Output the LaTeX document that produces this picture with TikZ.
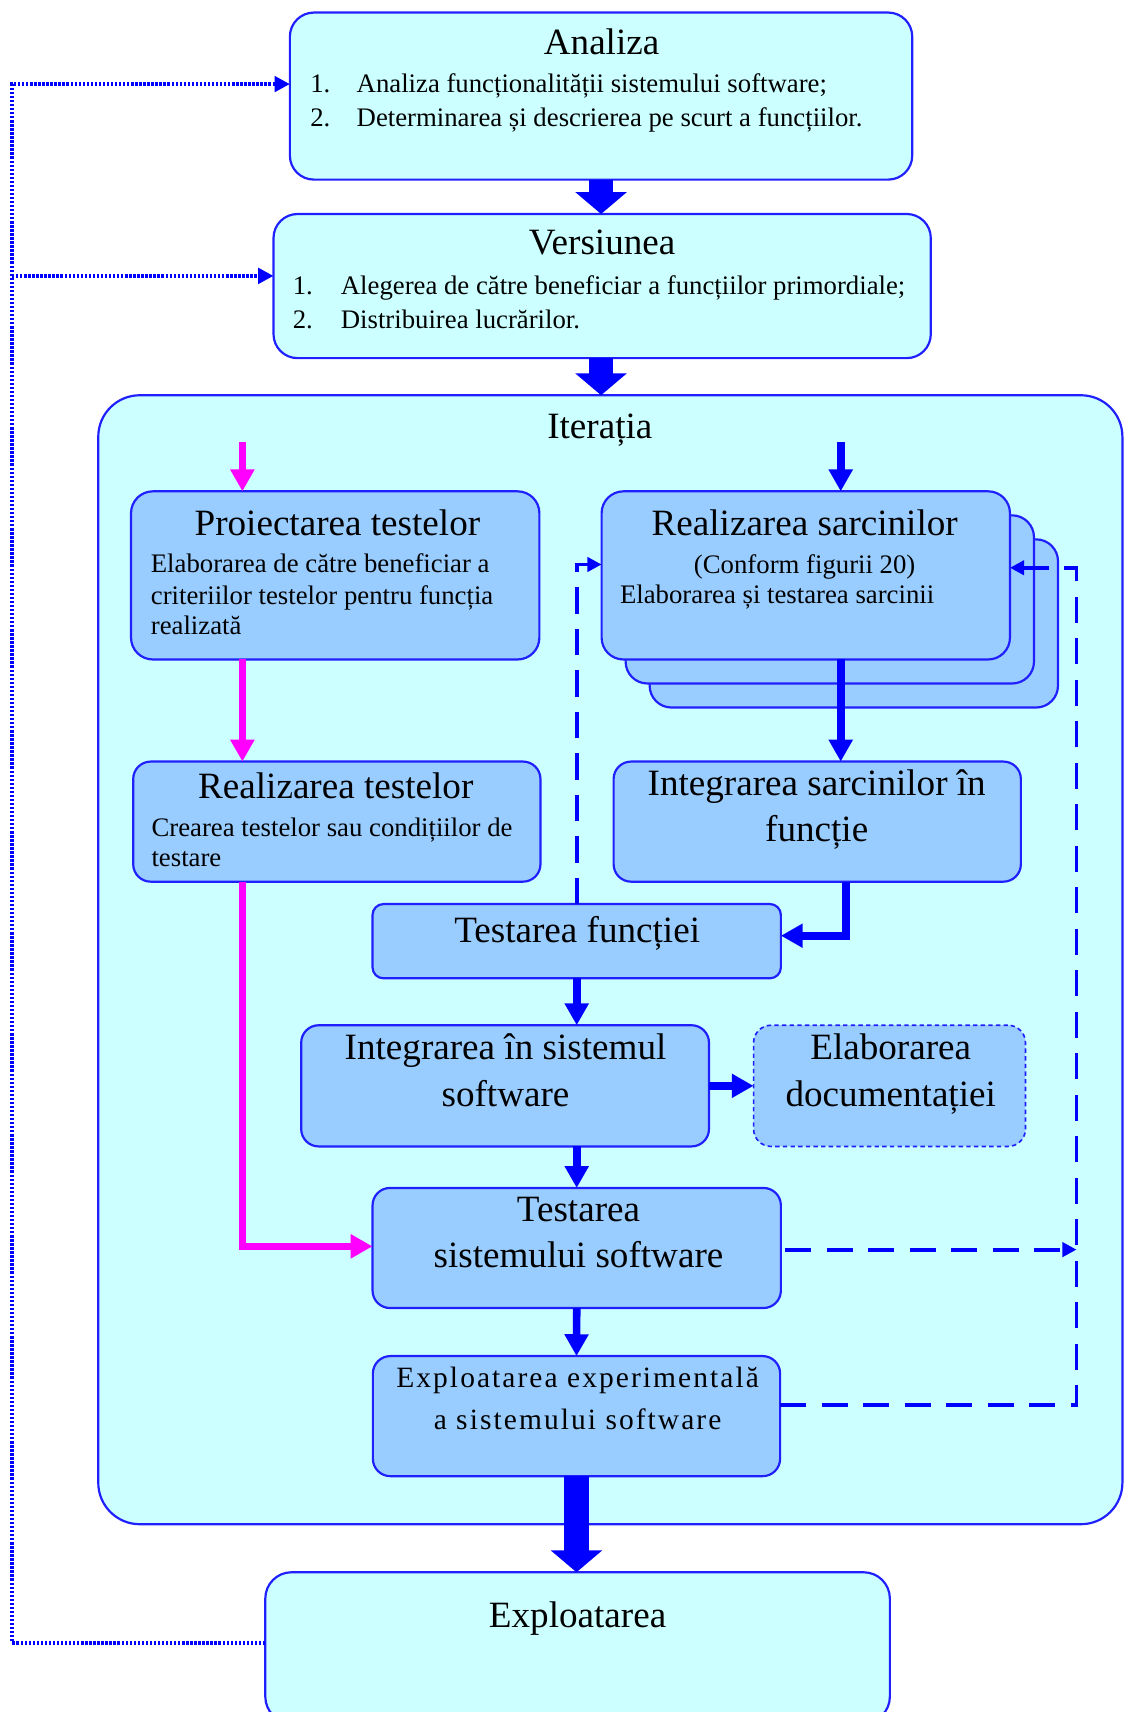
\documentclass[tikz,border=0pt]{standalone}
\usepackage{fontspec}
\setmainfont{Liberation Serif}
\newfontfamily\widefont[LetterSpace=7]{Liberation Serif}
\usetikzlibrary{arrows.meta,calc}

\definecolor{pale}{HTML}{CCFFFF}
\definecolor{inner}{HTML}{99CCFF}
\definecolor{edge}{HTML}{2020FF}
\definecolor{flow}{HTML}{0000FF}
\definecolor{pink}{HTML}{FF00FF}

\tikzset{
  box/.style={draw=edge, line width=2pt, inner sep=0pt, outer sep=0pt, rounded corners=#1},
  box/.default=20pt,
  outerbox/.style={box=#1, fill=pale},
  outerbox/.default=20pt,
  innerbox/.style={box=#1, fill=inner},
  innerbox/.default=16pt,
  ttl/.style={anchor=base, inner sep=0pt, font=\fontsize{34}{40}\selectfont},
  txt/.style={anchor=base west, inner sep=0pt, font=\fontsize{24.5}{29}\selectfont},
  ctxt/.style={anchor=base, inner sep=0pt, font=\fontsize{24.5}{29}\selectfont},
  wide/.style={anchor=base, inner sep=0pt, font=\widefont\fontsize{27}{32}\selectfont},
  bigarrow/.style={draw=flow, line width=22pt, -{Triangle[width=46pt,length=20pt]}},
  medarrow/.style={draw=flow, line width=7pt, line join=miter, -{Triangle[width=21pt,length=20pt]}},
  pinkarrow/.style={draw=pink, line width=6pt, line join=miter, -{Triangle[width=21pt,length=20pt]}},
  dashline/.style={draw=flow, line width=3.5pt, dash pattern=on 24pt off 14pt},
  dashtip/.style={-{Triangle[width=13pt,length=13pt]}},
  dotline/.style={draw=flow, line width=3.5pt, dash pattern=on 2.2pt off 1.5pt,
    -{Triangle[width=14pt,length=14pt]}}
}

\begin{document}
\begin{tikzpicture}[x=1pt,y=-1pt]
\useasboundingbox (0,0) rectangle (1030,1568);
\clip (0,0) rectangle (1030,1568);

% outer stages
\node[outerbox=22pt, minimum width=570pt, minimum height=153pt] (ana) at (550.5,88) {};
\node[outerbox=22pt, minimum width=602pt, minimum height=132pt] (ver) at (551.5,262) {};
\node[outerbox=38pt, minimum width=938pt, minimum height=1034pt] (ite) at (559,879) {};
\node[outerbox=24pt, minimum width=572pt, minimum height=138pt] (exp) at (529,1509) {};

% inner steps of the iteration
\node[innerbox=20pt, minimum width=374pt, minimum height=154pt] (pro) at (307,527) {};
\node[innerbox=20pt, minimum width=374pt, minimum height=154pt] (rsa3) at (782,571) {};
\node[innerbox=20pt, minimum width=374pt, minimum height=154pt] (rsa2) at (760,549) {};
\node[innerbox=20pt, minimum width=374pt, minimum height=154pt] (rsa) at (738,527) {};
\node[innerbox, minimum width=373pt, minimum height=110pt] (rte) at (308.5,752.5) {};
\node[innerbox, minimum width=373pt, minimum height=110pt] (int) at (748.5,752.5) {};
\node[innerbox=10pt, minimum width=374pt, minimum height=68pt] (tfu) at (528.2,862) {};
\node[innerbox, minimum width=373.5pt, minimum height=111pt] (isi) at (462.6,994.5) {};
\node[innerbox, minimum width=249pt, minimum height=111pt, line width=1.5pt,
      dash pattern=on 4pt off 3pt] (doc) at (814.7,994.5) {};
\node[innerbox, minimum width=374pt, minimum height=110pt] (tss) at (528.2,1143) {};
\node[innerbox, minimum width=373pt, minimum height=110pt] (eex) at (528,1297) {};

% free ends of connectors
\coordinate (pin) at (222,405);
\coordinate (rin) at (770,405);
\coordinate (dr) at (986,520);
\coordinate (dtop) at (11,77);
\coordinate (dmid) at (11,252.7);

% main flow
\draw[bigarrow] (ana.south) -- (ana.south |- ver.north);
\draw[bigarrow] (ver.south -| ana.south) -- (ana.south |- ite.north);
\draw[bigarrow] (eex.south) -- (eex.south |- exp.north);

% test branch
\draw[pinkarrow] (pin) -- (pin |- pro.north);
\draw[pinkarrow] (pro.south -| pin) -- (rte.north -| pin);
\draw[pinkarrow] (rte.south -| pin) |- ([yshift=1.5pt]tss.west);

% development branch
\draw[medarrow] (rin) -- (rin |- rsa.north);
\draw[medarrow] (rsa.south -| rin) -- (int.north -| rin);
\draw[medarrow] ($(int.south)+(26.5,0)$) |- ([yshift=5pt]tfu.east);
\draw[medarrow] (tfu.south) -- (tfu.south |- isi.north);
\draw[medarrow] (isi.east) -- (doc.west);
\draw[medarrow] (isi.south -| tfu.south) -- (tss.north);
\draw[medarrow] (tss.south) -- (eex.north);

% feedback loops
\draw[dashline, dashtip] (tfu.north) |- ([yshift=10pt]rsa.west);
\draw[dashline, dashtip, shorten <=4pt] ([yshift=-1.5pt]tss.east) -- ([yshift=-1.5pt]tss.east -| dr);
\draw[dashline, dashtip] ([yshift=10pt]eex.east) -| (dr) -- (dr -| rsa.east);
\draw[dotline] ([yshift=4.5pt]exp.west) -| (dtop) -- (dtop -| ana.west);
\draw[dotline] (dmid) -- (dmid -| ver.west);

% texts
\node[ttl] (anaT) at (551,50) {Analiza};
\node[txt] (anaN1) at (284,85) {1.};
\node[txt] (anaL1) at (326.5,85) {Analiza funcționalității sistemului software;};
\node[txt] (anaN2) at (284,116) {2.};
\node[txt] (anaL2) at (326.5,116) {Determinarea și descrierea pe scurt a funcțiilor.};

\node[ttl] (verT) at (551.5,233.5) {Versiunea};
\node[txt] (verN1) at (268,270) {1.};
\node[txt] (verL1) at (312,270) {Alegerea de către beneficiar a funcțiilor primordiale;};
\node[txt] (verN2) at (268,300.5) {2.};
\node[txt] (verL2) at (312,300.5) {Distribuirea lucrărilor.};

\node[ttl] (iteT) at (549.4,402) {Iterația};

\node[ttl] (proT) at (309,490) {Proiectarea testelor};
\node[txt] (proL1) at (138,524.3) {Elaborarea de către beneficiar a};
\node[txt] (proL2) at (138,553.3) {criteriilor testelor pentru funcția};
\node[txt] (proL3) at (138,580.8) {realizată};

\node[ttl] (rsaT) at (737,490) {Realizarea sarcinilor};
\node[ctxt] (rsaC) at (737,525) {(Conform figurii 20)};
\node[txt] (rsaL) at (567.7,552.4) {Elaborarea și testarea sarcinii};

\node[ttl] (rteT) at (307.5,731) {Realizarea testelor};
\node[txt] (rteL1) at (138.6,766) {Crearea testelor sau condițiilor de};
\node[txt] (rteL2) at (138.6,793.5) {testare};

\node[ttl] (intT1) at (748,728.8) {Integrarea sarcinilor în};
\node[ttl] (intT2) at (748,770.6) {funcție};

\node[ttl] (tfuT) at (528.6,863) {Testarea funcției};

\node[ttl] (isiT1) at (463,970.5) {Integrarea în sistemul};
\node[ttl] (isiT2) at (463,1013.2) {software};

\node[ttl] (docT1) at (815.8,970.5) {Elaborarea};
\node[ttl] (docT2) at (815.8,1013.2) {documentației};

\node[ttl] (tssT1) at (529.8,1118.5) {Testarea};
\node[ttl] (tssT2) at (529.8,1161.3) {sistemului software};

\node[wide] (eexT1) at (529,1271) {Exploatarea experimentală};
\node[wide] (eexT2) at (529,1309.3) {a sistemului software};

\node[ttl] (expT) at (529,1490.8) {Exploatarea};
\end{tikzpicture}
\end{document}
